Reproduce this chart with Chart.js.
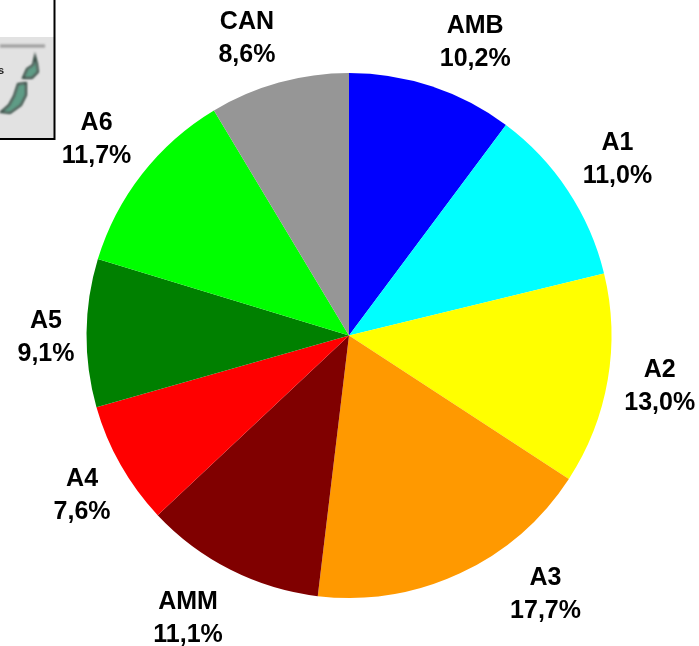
<!DOCTYPE html>
<html>
<head>
<meta charset="utf-8">
<title>Pie chart</title>
<script src="https://cdn.jsdelivr.net/npm/chart.js"></script>
<style>
  html, body { margin: 0; padding: 0; background: #fff; }
  canvas { display: block; }
</style>
</head>
<body>
<canvas id="pie" width="699" height="646"></canvas>
<script>
// Data
const categories = ['AMB', 'A1', 'A2', 'A3', 'AMM', 'A4', 'A5', 'A6', 'CAN'];
const values = [10.2, 11.0, 13.0, 17.7, 11.1, 7.6, 9.1, 11.7, 8.6];

// Style
const colors = ['#0000ff', '#00ffff', '#ffff00', '#ff9900', '#800000', '#ff0000', '#008000', '#00ff00', '#969696'];
// label shift from the outer middle of each slice
const labelShift = [[43.5, -44], [49.5, -31], [52, 7], [85.5, 21], [-42.5, 48.5], [-38.5, 30.5], [-40.5, 5], [-45.5, -34], [-32, -44]];

// Labels in two lines: name and percent with decimal comma
const sliceLabels = {
  id: 'sliceLabels',
  afterDatasetsDraw(chart) {
    const c = chart.ctx;
    c.save();
    c.font = 'bold 25px "Liberation Sans", Arial, sans-serif';
    c.fillStyle = '#000';
    c.textAlign = 'center';
    c.textBaseline = 'middle';
    chart.getDatasetMeta(0).data.forEach((arc, i) => {
      const mid = (arc.startAngle + arc.endAngle) / 2;
      const x = arc.x + Math.cos(mid) * arc.outerRadius + labelShift[i][0];
      const y = arc.y + Math.sin(mid) * arc.outerRadius + labelShift[i][1];
      c.fillText(categories[i], x, y - 16.5);
      c.fillText(values[i].toFixed(1).replace('.', ',') + '%', x, y + 16.5);
    });
    c.restore();
  }
};

// Small map inset in the top left corner
const mapInset = {
  id: 'mapInset',
  afterDraw(chart) {
    const c = chart.ctx;
    c.save();
    c.fillStyle = '#e2e2e2';
    c.fillRect(0, 37, 54, 102);

    c.filter = 'blur(0.8px)';
    c.strokeStyle = '#9a9a9a';
    c.lineWidth = 3;
    c.beginPath();
    c.moveTo(0, 46);
    c.lineTo(45, 46);
    c.stroke();

    c.fillStyle = '#5f9c86';
    c.strokeStyle = '#3a4a44';
    c.lineWidth = 2;
    c.beginPath();
    c.moveTo(23, 78);
    c.lineTo(27, 69);
    c.lineTo(33, 65);
    c.lineTo(35, 56);
    c.lineTo(37, 64);
    c.lineTo(38, 72);
    c.lineTo(32, 78);
    c.closePath();
    c.fill();
    c.stroke();
    c.beginPath();
    c.moveTo(18, 84);
    c.lineTo(26, 83);
    c.lineTo(26, 95);
    c.lineTo(21, 105);
    c.lineTo(10, 113);
    c.lineTo(1, 112);
    c.lineTo(9, 105);
    c.lineTo(14, 96);
    c.closePath();
    c.fill();
    c.stroke();
    c.filter = 'none';

    c.fillStyle = '#222';
    c.font = 'bold 11px "Liberation Sans", Arial, sans-serif';
    c.textAlign = 'left';
    c.textBaseline = 'middle';
    c.fillText('s', -2, 71);

    c.strokeStyle = '#000';
    c.lineWidth = 2;
    c.beginPath();
    c.moveTo(54.5, 0);
    c.lineTo(54.5, 139);
    c.lineTo(0, 139);
    c.stroke();
    c.restore();
  }
};

new Chart(document.getElementById('pie').getContext('2d'), {
  type: 'pie',
  data: {
    labels: categories,
    datasets: [{
      data: values,
      backgroundColor: colors,
      borderWidth: 0
    }]
  },
  options: {
    responsive: false,
    animation: false,
    layout: { padding: { top: 73, bottom: 48, left: 86, right: 87 } },
    plugins: {
      legend: { display: false },
      tooltip: { enabled: false }
    }
  },
  plugins: [sliceLabels, mapInset]
});
</script>
</body>
</html>
